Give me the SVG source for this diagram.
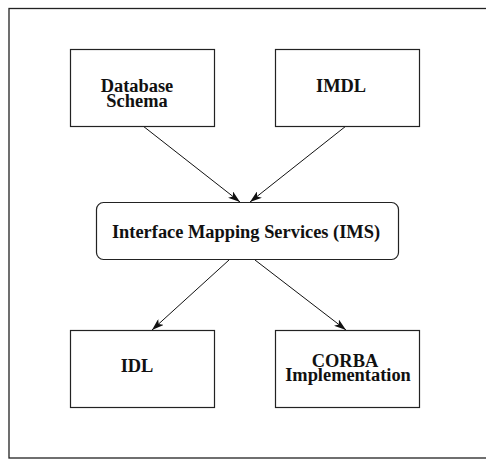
<svg xmlns="http://www.w3.org/2000/svg" width="486" height="459" viewBox="0 0 486 459">
<style>
.box{fill:#fff;stroke:#222;stroke-width:1.2}
.lbl{font-family:"Liberation Serif","Times New Roman",serif;font-weight:bold;font-size:18.4px;fill:#111;text-anchor:middle}
.edge{stroke:#111;stroke-width:1;fill:none;marker-end:url(#ah)}
</style>
<defs>
<marker id="ah" viewBox="0 0 12 8" refX="12" refY="4" markerWidth="12" markerHeight="8" markerUnits="userSpaceOnUse" orient="auto">
<path d="M0,0 L12,4 L0,8 L3,4 Z" fill="#111"/>
</marker>
</defs>
<rect x="0" y="0" width="486" height="459" fill="#fff"/>
<rect x="9" y="8.5" width="480" height="449.5" fill="none" stroke="#222" stroke-width="1.3"/>
<g id="connectors">
<line class="edge" x1="143" y1="126" x2="240" y2="202"/>
<line class="edge" x1="346" y1="126" x2="250" y2="202"/>
<line class="edge" x1="229" y1="260" x2="152" y2="330"/>
<line class="edge" x1="255" y1="260" x2="346" y2="330"/>
</g>
<g id="database">
<rect class="box" x="70.5" y="49.5" width="144" height="77"/>
<text class="lbl" x="137" y="92">Database</text>
<text class="lbl" x="137" y="106.5">Schema</text>
</g>
<g id="imdl">
<rect class="box" x="275.5" y="49.5" width="144" height="77"/>
<text class="lbl" x="341" y="92">IMDL</text>
</g>
<g id="ims">
<rect class="box" x="96.5" y="202.5" width="302" height="57" rx="7"/>
<text class="lbl" x="246" y="238">Interface Mapping Services (IMS)</text>
</g>
<g id="idl">
<rect class="box" x="70.5" y="330.5" width="144" height="77"/>
<text class="lbl" x="137" y="372">IDL</text>
</g>
<g id="corba">
<rect class="box" x="275.5" y="330.5" width="144" height="77"/>
<text class="lbl" x="345" y="366.5">CORBA</text>
<text class="lbl" x="348" y="381">Implementation</text>
</g>
</svg>
